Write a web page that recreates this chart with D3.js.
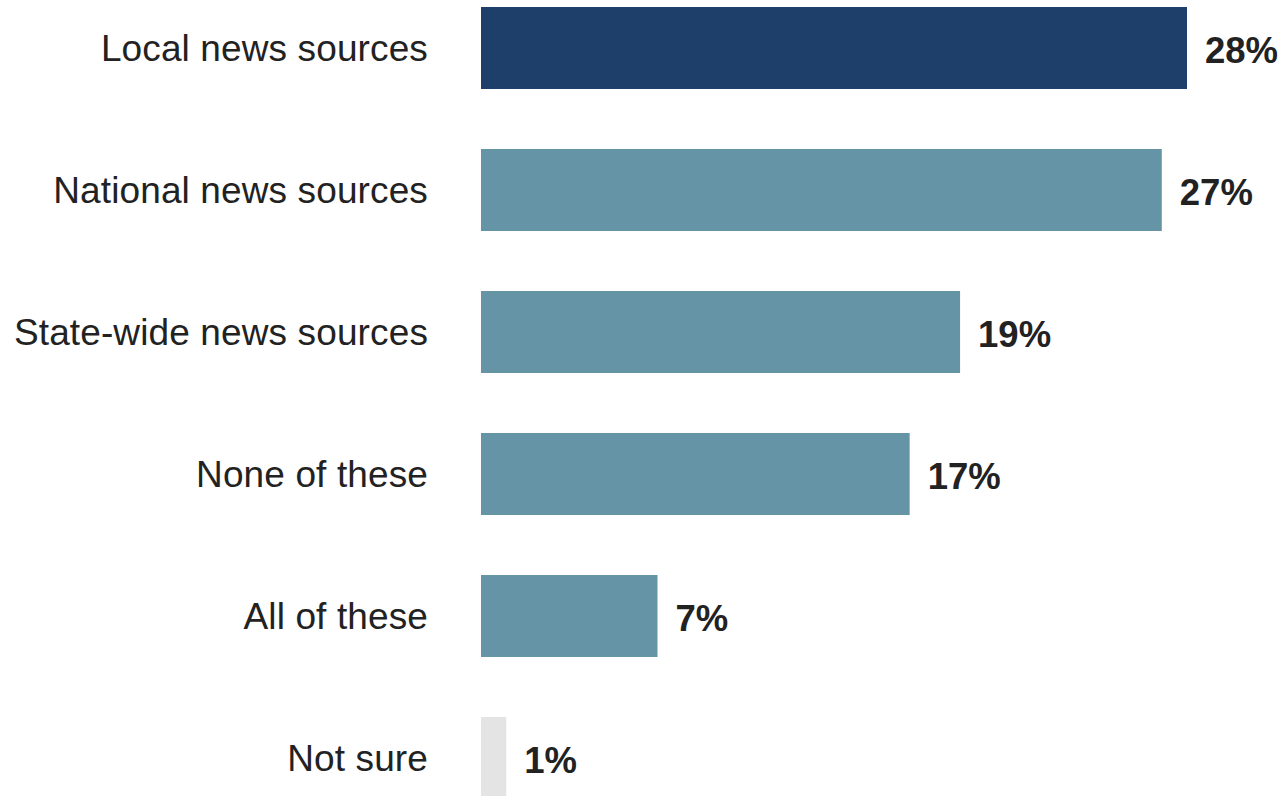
<!DOCTYPE html>
<html>
<head>
<meta charset="utf-8">
<script src="https://cdn.jsdelivr.net/npm/d3@7"></script>
<style>
  html, body { margin: 0; padding: 0; background: #fff; }
  svg { display: block; }
</style>
</head>
<body>
<svg id="chart" width="1284" height="796"></svg>
<script>
const categories = ["Local news sources", "National news sources", "State-wide news sources", "None of these", "All of these", "Not sure"];
const values = [28, 27, 19, 17, 7, 1];
const valueLabels = ["28%", "27%", "19%", "17%", "7%", "1%"];
const barColors = ["#1e3f6a", "#6494a6", "#6494a6", "#6494a6", "#6494a6", "#e4e4e4"];

const svg = d3.select("#chart");
const x0 = 481;
const x = d3.scaleLinear().domain([0, 28]).range([x0, 1187]);
const y = d3.scaleBand().domain(categories).range([-23, 829])
  .paddingInner(60 / 142).paddingOuter(30 / 142);

const data = categories.map((c, i) => ({ c, v: values[i], label: valueLabels[i], color: barColors[i] }));

svg.selectAll("rect.bar").data(data).enter().append("rect")
  .attr("class", "bar")
  .attr("x", x(0))
  .attr("y", d => y(d.c))
  .attr("width", d => x(d.v) - x(0))
  .attr("height", y.bandwidth())
  .attr("fill", d => d.color);

svg.selectAll("text.cat").data(data).enter().append("text")
  .attr("class", "cat")
  .attr("x", 428)
  .attr("y", d => y(d.c) + y.bandwidth() / 2)
  .attr("dy", "0.36em")
  .attr("text-anchor", "end")
  .attr("font-family", "Liberation Sans, Arial, sans-serif")
  .attr("font-size", 37)
  .attr("letter-spacing", "0.12px")
  .attr("fill", "#222")
  .text(d => d.c);

svg.selectAll("text.val").data(data).enter().append("text")
  .attr("class", "val")
  .attr("x", d => x(d.v) + 18)
  .attr("y", d => y(d.c) + y.bandwidth() / 2)
  .attr("dy", "0.4em")
  .attr("text-anchor", "start")
  .attr("font-family", "Liberation Sans, Arial, sans-serif")
  .attr("font-weight", "bold")
  .attr("font-size", 36.5)
  .attr("fill", "#222")
  .text(d => d.label);
</script>
</body>
</html>
